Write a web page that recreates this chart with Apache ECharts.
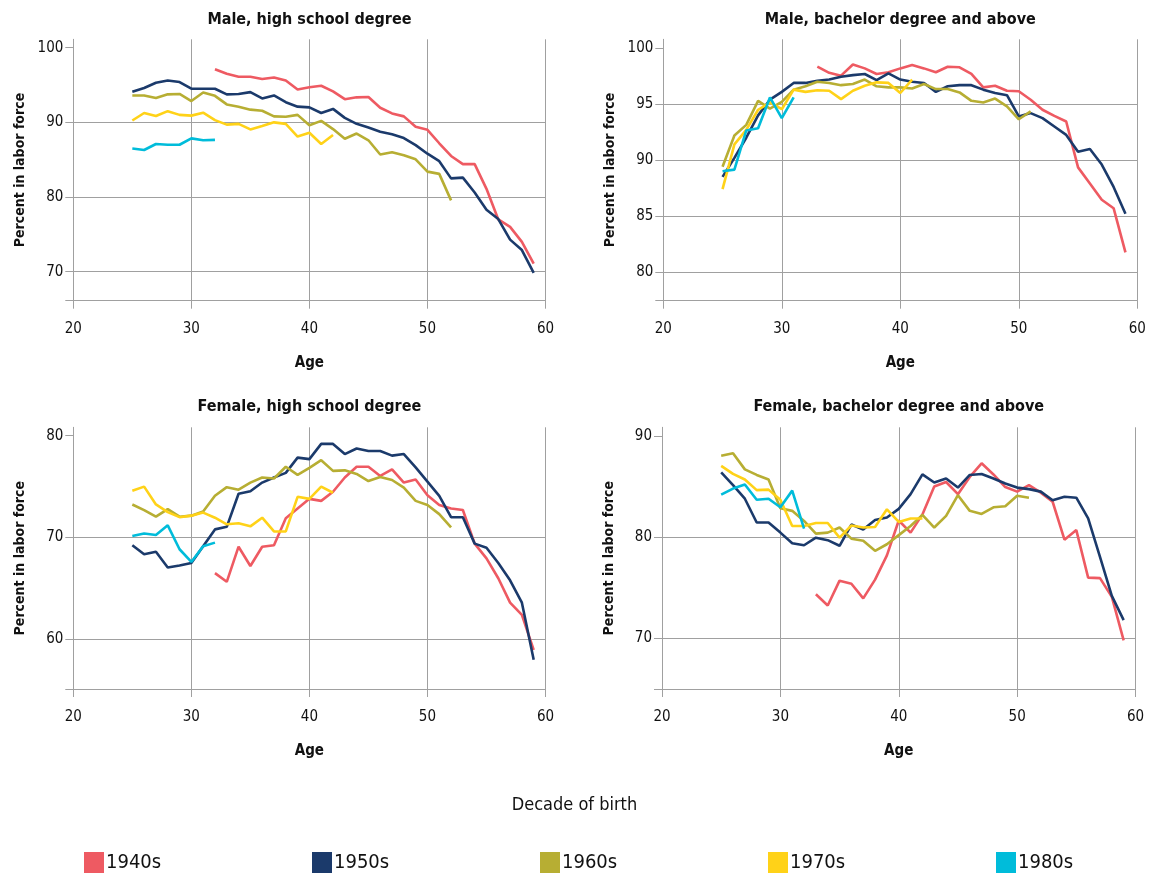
<!DOCTYPE html>
<html><head><meta charset="utf-8">
<script src="https://cdn.jsdelivr.net/npm/echarts@6/dist/echarts.min.js"></script>
<style>html,body{margin:0;padding:0;background:#fff}#c{width:1149px;height:875px}</style>
</head><body><div id="c"></div>
<script>
const _ = null;
// Ages (x values)
const ages = [25,26,27,28,29,30,31,32,33,34,35,36,37,38,39,40,41,42,43,44,45,46,47,48,49,50,51,52,53,54,55,56,57,58,59];
const cohorts = ['1940s','1950s','1960s','1970s','1980s'];
const xTicks = [20,30,40,50,60];

// Male, high school degree
const mhs1940 = [_,_,_,_,_,_,_,97.1,96.5,96.1,96.1,95.8,96.0,95.6,94.4,94.7,94.9,94.15,93.1,93.35,93.4,91.95,91.2,90.8,89.4,89.0,87.2,85.5,84.4,84.4,81.1,77.0,76.0,74.0,71.1];
const mhs1950 = [94.1,94.6,95.3,95.6,95.4,94.5,94.5,94.5,93.75,93.8,94.05,93.2,93.6,92.7,92.1,92.0,91.25,91.8,90.6,89.8,89.3,88.75,88.4,87.9,86.95,85.8,84.8,82.5,82.6,80.6,78.3,77.05,74.3,72.9,69.85];
const mhs1960 = [93.6,93.6,93.25,93.75,93.8,92.85,94.0,93.55,92.4,92.1,91.7,91.55,90.8,90.75,91.0,89.6,90.2,89.1,87.8,88.5,87.6,85.7,86.0,85.6,85.05,83.4,83.1,79.55];
const mhs1970 = [90.25,91.25,90.85,91.5,91.0,90.9,91.3,90.3,89.7,89.8,89.05,89.5,90.0,89.8,88.1,88.6,87.1,88.3];
const mhs1980 = [86.5,86.3,87.1,87.0,87.0,87.85,87.6,87.65];
const mhsTicks = [70,80,90,100];

// Male, bachelor degree and above
const mba1940 = [_,_,_,_,_,_,_,_,98.35,97.8,97.55,98.55,98.2,97.7,97.85,98.2,98.5,98.2,97.85,98.35,98.3,97.7,96.5,96.65,96.2,96.15,95.4,94.5,93.95,93.45,89.35,87.9,86.45,85.7,81.75];
const mba1950 = [88.5,90.2,92.0,94.0,95.4,96.1,96.9,96.9,97.1,97.2,97.45,97.6,97.7,97.15,97.75,97.2,97.0,96.9,96.1,96.6,96.7,96.7,96.3,96.0,95.8,93.9,94.2,93.75,93.0,92.25,90.75,91.0,89.6,87.6,85.2];
const mba1960 = [89.4,92.2,93.15,95.3,94.6,95.2,96.3,96.6,97.0,96.9,96.7,96.8,97.2,96.6,96.5,96.5,96.4,96.8,96.35,96.35,96.05,95.3,95.15,95.5,94.8,93.65,94.35];
const mba1970 = [87.4,91.4,92.7,94.5,95.15,94.55,96.3,96.1,96.25,96.2,95.45,96.2,96.65,96.95,96.9,96.0,97.2];
const mba1980 = [89.0,89.15,92.65,92.85,95.6,93.75,95.6];
const mbaTicks = [80,85,90,95,100];

// Female, high school degree
const fhs1940 = [_,_,_,_,_,_,_,66.5,65.65,69.1,67.2,69.1,69.25,71.9,72.85,73.8,73.6,74.5,75.9,76.95,76.95,76.05,76.7,75.4,75.7,74.15,73.2,72.85,72.7,69.4,67.95,66.0,63.6,62.4,58.95];
const fhs1950 = [69.25,68.35,68.6,67.05,67.25,67.5,69.15,70.8,71.05,74.3,74.55,75.4,75.9,76.35,77.85,77.7,79.2,79.2,78.2,78.75,78.5,78.5,78.05,78.2,76.9,75.5,74.1,72.0,72.0,69.4,69.0,67.5,65.8,63.6,58.0];
const fhs1960 = [73.25,72.7,72.05,72.8,72.05,72.15,72.55,74.1,74.95,74.7,75.4,75.9,75.8,76.95,76.15,76.85,77.6,76.55,76.6,76.25,75.55,75.95,75.65,74.9,73.6,73.2,72.3,71.0];
const fhs1970 = [74.6,75.0,73.25,72.5,72.0,72.15,72.45,71.95,71.3,71.4,71.1,71.95,70.6,70.6,74.0,73.8,75.0,74.4];
const fhs1980 = [70.15,70.4,70.25,71.2,68.85,67.6,69.15,69.5];
const fhsTicks = [60,70,80];

// Female, bachelor degree and above
const fba1940 = [_,_,_,_,_,_,_,_,74.35,73.25,75.7,75.4,73.95,75.8,78.2,81.65,80.45,82.25,85.0,85.45,84.25,85.95,87.3,86.2,84.95,84.5,85.15,84.4,83.5,79.75,80.7,76.0,75.95,74.1,69.8];
const fba1950 = [86.4,85.15,83.8,81.45,81.45,80.45,79.4,79.2,79.95,79.7,79.15,81.25,80.75,81.7,81.95,82.8,84.25,86.2,85.4,85.8,84.9,86.15,86.25,85.8,85.3,84.9,84.75,84.5,83.65,84.0,83.9,81.85,78.05,74.2,71.8];
const fba1960 = [88.05,88.3,86.7,86.15,85.7,82.85,82.6,81.6,80.35,80.45,80.95,79.85,79.65,78.65,79.3,80.2,81.1,82.2,80.95,82.1,84.15,82.6,82.3,82.95,83.05,84.1,83.9];
const fba1970 = [87.05,86.25,85.7,84.65,84.7,83.7,81.1,81.1,81.4,81.4,79.95,81.15,80.95,81.0,82.75,81.5,81.85,81.85];
const fba1980 = [84.2,84.8,85.2,83.7,83.8,82.95,84.6,80.85];
const fbaTicks = [70,80,90];

const colors = ['#EE5A62','#1B3A6B','#B7AE33','#FFD218','#00BCDA'];
const FONT = '"DejaVu Sans Condensed","Liberation Sans Narrow",sans-serif';
const GRID = '#a0a0a0';
const TXT = '#111';

const panels = [
  {title:'Male, high school degree', series:[mhs1940,mhs1950,mhs1960,mhs1970,mhs1980], ticks:mhsTicks, min:66.12, max:101.12, left:73.3, top:39.3, width:472.2, height:261.4, titleTop:12},
  {title:'Male, bachelor degree and above', series:[mba1940,mba1950,mba1960,mba1970,mba1980], ticks:mbaTicks, min:77.43, max:100.8, left:663.3, top:39.3, width:474, height:261.4, titleTop:12},
  {title:'Female, high school degree', series:[fhs1940,fhs1950,fhs1960,fhs1970,fhs1980], ticks:fhsTicks, min:55.12, max:80.83, left:73.3, top:427.3, width:472.2, height:261.7, titleTop:399},
  {title:'Female, bachelor degree and above', series:[fba1940,fba1950,fba1960,fba1970,fba1980], ticks:fbaTicks, min:64.99, max:90.86, left:662, width:473.5, top:427.3, height:261.7, titleTop:399}
];

function pairs(vals){ return ages.map((a,i)=>[a, vals[i]]).filter(p=>p[1]!=null); }

const option = {
  animation:false,
  backgroundColor:'#fff',
  title: panels.map(p=>({
    text:p.title, left:p.left+p.width/2, top:p.titleTop, textAlign:'center', padding:0,
    textStyle:{fontFamily:FONT, fontSize:16, fontWeight:'bold', color:TXT}
  })).concat([{
    text:'Decade of birth', left:574.5, top:796, textAlign:'center', padding:0,
    textStyle:{fontFamily:FONT, fontSize:18, fontWeight:'normal', color:TXT}
  }]),
  legend: cohorts.map((c,i)=>({
    data:[c], left:[84,312,540,768,996][i], top:852, padding:0, icon:'rect', itemWidth:20, itemHeight:21,
    selectedMode:false,
    textStyle:{fontFamily:FONT, fontSize:20, color:TXT, padding:[0,0,0,-3]}
  })),
  grid: panels.map(p=>({left:p.left, top:p.top, width:p.width, height:p.height, containLabel:false})),
  xAxis: panels.map((p,i)=>({
    gridIndex:i, type:'value', min:xTicks[0], max:xTicks[xTicks.length-1], interval:10,
    name:'Age', nameLocation:'middle', nameGap:55,
    nameTextStyle:{fontFamily:FONT, fontSize:15, fontWeight:'bold', color:TXT},
    axisLine:{show:true, onZero:false, lineStyle:{color:GRID, width:1}},
    axisTick:{show:true, length:8, lineStyle:{color:GRID, width:1}},
    axisLabel:{fontFamily:FONT, fontSize:15, color:TXT, margin:21},
    splitLine:{show:true, lineStyle:{color:GRID, width:1}}
  })),
  yAxis: panels.map((p,i)=>({
    gridIndex:i, type:'value', min:p.min, max:p.max,
    name:'Percent in labor force', nameLocation:'middle', nameGap:46,
    nameTextStyle:{fontFamily:FONT, fontSize:14, fontWeight:'bold', color:TXT},
    axisLine:{show:true, lineStyle:{color:GRID, width:1}},
    axisTick:{show:true, length:8, customValues:[p.min].concat(p.ticks), lineStyle:{color:GRID, width:1}},
    axisLabel:{fontFamily:FONT, fontSize:15, color:TXT, margin:10, customValues:p.ticks},
    splitLine:{show:true, showMaxLine:false, lineStyle:{color:GRID, width:1}}
  })),
  series: []
};
panels.forEach((p,i)=>{
  p.series.forEach((vals,k)=>{
    option.series.push({
      name:cohorts[k], type:'line', xAxisIndex:i, yAxisIndex:i,
      data:pairs(vals), showSymbol:false, symbol:'none', color:colors[k],
      itemStyle:{color:colors[k]}, lineStyle:{color:colors[k], width:2.6},
      emphasis:{disabled:true}, z:2+k
    });
  });
});
const chart = echarts.init(document.getElementById('c'));
chart.setOption(option);
</script></body></html>
